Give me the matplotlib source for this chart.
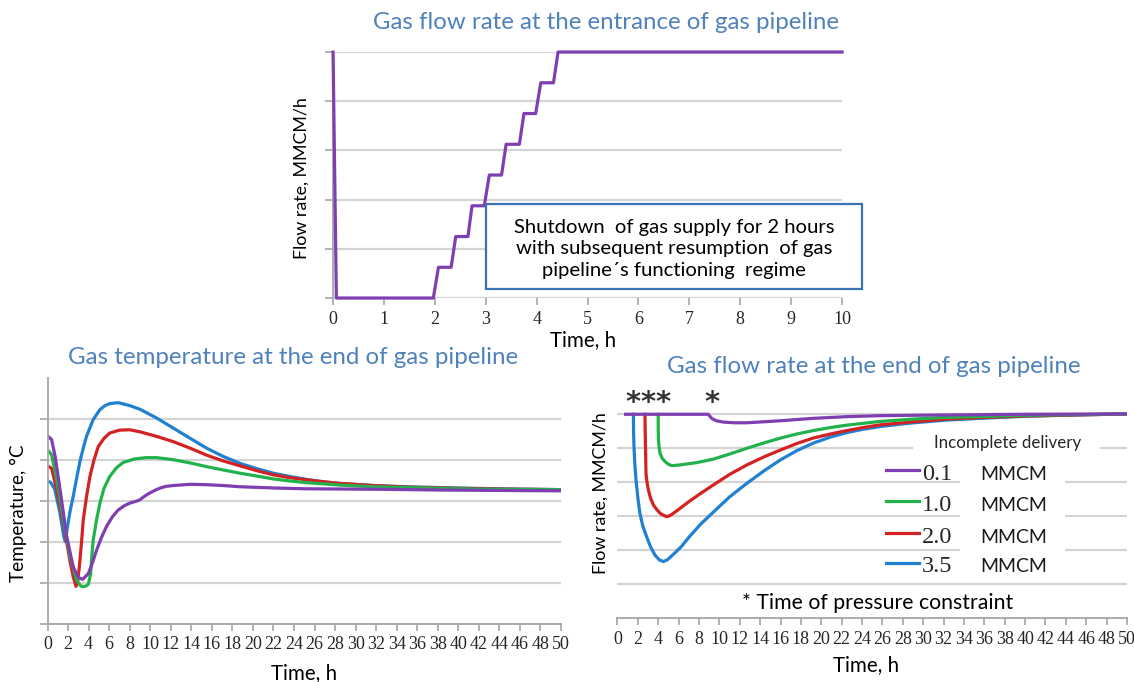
import matplotlib
matplotlib.use('Agg')
import matplotlib.pyplot as plt
from matplotlib.patches import Rectangle

# --- data ---

# gas flow rate at the entrance (steps), hours / relative units
inlet_t = [0, 0.065, 1.97, 2.07, 2.32, 2.41, 2.65, 2.73, 2.97, 3.07, 3.31, 3.40,
           3.66, 3.75, 3.98, 4.08, 4.33, 4.42, 10]
inlet_q = [5, 0, 0, 0.625, 0.625, 1.25, 1.25, 1.875, 1.875, 2.5, 2.5, 3.125,
           3.125, 3.75, 3.75, 4.375, 4.375, 5, 5]

# gas temperature at the end of pipeline
temp_t_01 = [0, 0.4, 0.74, 1.23, 1.87, 2.5, 3.0, 3.42, 3.97, 4.4, 4.77, 5.25, 5.74, 6.3,
             6.87, 7.5, 8.0, 8.8, 9.05, 9.29, 9.7, 10.2, 10.6, 11.1, 11.55, 12.25, 13.9,
             15.5, 17.1, 18.75, 22, 25.2, 31.7, 38.2, 44, 50]
temp_01 = [4.58, 4.49, 4.08, 3.26, 2.12, 1.39, 1.13, 1.08, 1.22, 1.5, 1.79, 2.1, 2.37, 2.6,
           2.77, 2.88, 2.94, 3.0, 3.03, 3.08, 3.15, 3.22, 3.27, 3.32, 3.35, 3.37, 3.4,
           3.39, 3.37, 3.34, 3.31, 3.29, 3.28, 3.26, 3.25, 3.24]

temp_t_10 = [0, 0.4, 0.9, 1.55, 2.2, 2.84, 3.2, 3.42, 3.75, 3.97, 4.1, 4.2, 4.3, 4.45, 4.75,
             5.1, 5.5, 6.06, 6.7, 7.35, 8.5, 9.6, 10.6, 12.25, 13.9, 15.5, 17.1, 18.75,
             20.4, 22, 23.6, 25.2, 26.9, 28.5, 31.7, 35, 38.2, 42, 50]
temp_10 = [4.24, 4.12, 3.51, 2.53, 1.63, 1.06, 0.93, 0.9, 0.92, 0.96, 1.1, 1.22, 1.6, 2.04, 2.5,
           2.94, 3.3, 3.59, 3.8, 3.93, 4.02, 4.05, 4.05, 4.0, 3.92, 3.83, 3.75, 3.67,
           3.6, 3.53, 3.48, 3.44, 3.41, 3.38, 3.34, 3.32, 3.3, 3.28, 3.27]

temp_t_20 = [0, 0.4, 0.9, 1.55, 2.2, 2.5, 2.77, 2.95, 3.1, 3.3, 3.48, 3.8, 4.13, 4.5, 4.94,
             5.5, 6.06, 7, 8.0, 9.0, 10.6, 12.25, 13.9, 15.5, 17.1, 18.75, 20.4, 22, 23.6,
             25.2, 26.9, 28.5, 31.7, 35, 38.2, 42, 46, 50]
temp_20 = [3.85, 3.79, 3.26, 2.45, 1.51, 1.15, 0.91, 1.05, 1.39, 1.95, 2.53, 3.1, 3.59, 3.97,
           4.32, 4.52, 4.65, 4.72, 4.73, 4.68, 4.57, 4.44, 4.28, 4.11, 3.97, 3.85, 3.73,
           3.63, 3.56, 3.51, 3.46, 3.42, 3.37, 3.33, 3.31, 3.29, 3.28, 3.27]

temp_t_35 = [0, 0.3, 0.7, 1.2, 1.6, 1.75, 1.9, 2.2, 2.5, 2.8, 3.16, 3.5, 3.8, 4.45, 5.1, 5.6,
             6.1, 6.9, 8.0, 9.0, 10.6, 12.25, 13.9, 15.5, 17.1, 18.75, 20.4, 22, 23.6, 25.2,
             26.9, 28.5, 31.7, 35, 38.2, 42, 46, 50]
temp_35 = [3.47, 3.45, 3.28, 2.72, 2.1, 2.0, 2.3, 2.75, 3.1, 3.5, 3.96, 4.3, 4.57, 4.98, 5.22,
           5.32, 5.37, 5.39, 5.32, 5.23, 5.02, 4.77, 4.52, 4.28, 4.08, 3.91, 3.78, 3.67,
           3.59, 3.52, 3.46, 3.42, 3.37, 3.34, 3.32, 3.3, 3.28, 3.27]

# gas flow rate at the end of pipeline
flow_t_01 = [0.8, 8.9, 9.24, 9.7, 10.4, 11.5, 12.7, 14.4, 16, 19.2, 22.5, 25.8, 32.3, 40, 50]
flow_01 = [6.0, 6.0, 5.88, 5.81, 5.77, 5.75, 5.75, 5.78, 5.81, 5.88, 5.93, 5.96, 5.98,
           6.0, 6.01]

flow_t_10 = [4.0, 4.0, 4.02, 4.1, 4.18, 4.4, 4.67, 5.0, 5.33, 6.13, 7.8, 9.4, 11, 12.7, 14.4,
             16, 17.6, 19.2, 20.9, 22.5, 25.8, 29.1, 32.3, 35.6, 40, 45, 50]
flow_10 = [6.0, 5.6, 5.25, 5.0, 4.85, 4.7, 4.61, 4.53, 4.49, 4.51, 4.58, 4.68, 4.83, 5.0, 5.16,
           5.3, 5.42, 5.52, 5.61, 5.68, 5.79, 5.86, 5.91, 5.93, 5.97, 5.99, 6.01]

flow_t_20 = [2.7, 2.72, 2.75, 2.8, 2.9, 3.04, 3.25, 3.53, 3.85, 4.18, 4.5, 4.84, 5.15, 5.5,
             6.13, 7, 8.2, 9.4, 11, 12.7, 14.4, 16, 17.6, 19.2, 20.9, 22.5, 24.1, 25.8,
             29.1, 32.3, 35.6, 40, 45, 50]
flow_20 = [6.0, 5.5, 5.05, 4.26, 4.0, 3.77, 3.53, 3.33, 3.2, 3.09, 3.03, 2.99, 3.02, 3.09,
           3.23, 3.43, 3.68, 3.92, 4.23, 4.51, 4.75, 4.95, 5.14, 5.3, 5.42, 5.52, 5.61, 5.69,
           5.78, 5.86, 5.9, 5.95, 5.98, 6.01]

flow_t_35 = [1.56, 1.58, 1.62, 1.7, 1.82, 2.0, 2.2, 2.5, 2.86, 3.25, 3.68, 4.1, 4.5, 4.9, 5.3,
             5.8, 6.3, 7, 8.2, 9.4, 11, 12.7, 14.4, 16, 17.6, 19.2, 20.9, 22.5, 24.1, 25.8,
             27.5, 29.1, 32.3, 35.6, 40, 45, 50]
flow_35 = [6.0, 5.5, 5.05, 4.55, 4.07, 3.55, 3.09, 2.7, 2.4, 2.1, 1.86, 1.72, 1.67, 1.72, 1.83,
           1.97, 2.12, 2.38, 2.78, 3.12, 3.57, 3.97, 4.34, 4.66, 4.93, 5.15, 5.33, 5.46,
           5.56, 5.64, 5.7, 5.75, 5.83, 5.88, 5.94, 5.98, 6.01]

delivery_labels = ['0.1', '1.0', '2.0', '3.5']
pressure_constraint_t = [1.5, 3.0, 4.5, 9.25]

# --- styles ---
PURPLE = '#7F3FB2'
GREEN = '#22B24C'
RED = '#D42222'
BLUE = '#2080D2'
TITLE_C = '#4F81BD'
GRID_C = '#D4D4D4'
AX_C = '#A6A6A6'
SANS = 'Lato'
SERIF = 'Liberation Serif'
LW = 2.3

fig = plt.figure(figsize=(11.34, 6.82), dpi=100)


def style_axes(ax, xticks, ylim, yticks, left_ticks=True, left_spine=True):
    ax.set_xticks(xticks)
    ax.set_yticks(yticks)
    ax.set_ylim(*ylim)
    ax.set_yticklabels([])
    ax.grid(axis='y', color=GRID_C, lw=1.6)
    ax.set_axisbelow(True)
    for s in ['top', 'right']:
        ax.spines[s].set_visible(False)
    ax.spines['bottom'].set_color(AX_C)
    ax.spines['bottom'].set_linewidth(1.3)
    ax.spines['left'].set_color(AX_C)
    ax.spines['left'].set_linewidth(1.3)
    ax.spines['left'].set_visible(left_spine)
    ax.tick_params(axis='x', length=5, width=1.2, color=AX_C, pad=4, labelsize=13,
                   labelcolor='#262626', labelfontfamily=SERIF)
    ax.tick_params(axis='y', length=6 if left_ticks else 0, width=1.2, color=AX_C)


# top panel: entrance flow rate
ax1 = fig.add_axes([0.2937, 0.5630, 0.4489, 0.3607])
ax1.plot(inlet_t, inlet_q, color=PURPLE, lw=LW, clip_on=False, zorder=3)
ax1.set_xlim(0, 10)
style_axes(ax1, range(0, 11), (0, 5), range(0, 6))
ax1.spines['bottom'].set_visible(False)
ax1.axhline(0, color=AX_C, lw=1.3, zorder=0.5)

fig.text(0.5344, 0.9677, 'Gas flow rate at the entrance of gas pipeline', color=TITLE_C,
         family=SANS, fontsize=17.3, ha='center', va='center')
fig.text(0.2663, 0.739, 'Flow rate, MMCM/h', family=SANS, fontsize=12.8, rotation=90,
         ha='center', va='center')
fig.text(0.5141, 0.5015, 'Time, h', family=SANS, fontsize=14.8, ha='center', va='center')

box = Rectangle((0.4286, 0.5758), 0.3316, 0.1246, transform=fig.transFigure,
                facecolor='white', edgecolor='#3A70B5', lw=1.6, zorder=5)
fig.patches.append(box)
fig.text(0.5944, 0.6349, 'Shutdown  of gas supply for 2 hours\n'
         'with subsequent resumption  of gas\npipeline\u00b4s functioning  regime',
         family=SANS, fontsize=14.6, ha='center', va='center', linespacing=1.3, zorder=6)

# bottom left: temperature
ax2 = fig.add_axes([0.0419, 0.0855, 0.4528, 0.3607])
ax2.plot(temp_t_35, temp_35, color=BLUE, lw=LW)
ax2.plot(temp_t_20, temp_20, color=RED, lw=LW)
ax2.plot(temp_t_10, temp_10, color=GREEN, lw=LW)
ax2.plot(temp_t_01, temp_01, color=PURPLE, lw=LW)
ax2.set_xlim(0, 50)
style_axes(ax2, range(0, 51, 2), (0, 6), range(0, 6))

fig.text(0.2584, 0.4765, 'Gas temperature at the end of gas pipeline', color=TITLE_C,
         family=SANS, fontsize=17.4, ha='center', va='center')
fig.text(0.0165, 0.2478, 'Temperature, \u00b0C', family=SANS, fontsize=13.6, rotation=90,
         ha='center', va='center')
fig.text(0.2681, 0.0132, 'Time, h', family=SANS, fontsize=14.8, ha='center', va='center')

# bottom right: flow at the end
ax3 = fig.add_axes([0.5445, 0.0934, 0.4493, 0.3191])
ax3.plot(flow_t_35, flow_35, color=BLUE, lw=LW)
ax3.plot(flow_t_20, flow_20, color=RED, lw=LW)
ax3.plot(flow_t_10, flow_10, color=GREEN, lw=LW)
ax3.plot(flow_t_01, flow_01, color=PURPLE, lw=LW)
ax3.set_xlim(0, 50)
style_axes(ax3, range(0, 51, 2), (0, 6.4), range(1, 7), left_ticks=False, left_spine=False)

for t in pressure_constraint_t:
    ax3.text(t, 6.33, '*', ha='center', va='center', fontsize=21, family='DejaVu Sans',
             weight='bold', color='#333333')

# legend drawn by hand to mimic the mixed fonts
ax3.add_patch(Rectangle((0.58, 0.746), 0.367, 0.092, transform=ax3.transAxes,
                        facecolor='white', edgecolor='none', zorder=1))
ax3.add_patch(Rectangle((0.672, 0.199), 0.206, 0.52, transform=ax3.transAxes,
                        facecolor='white', edgecolor='none', zorder=1))
ax3.text(0.766, 0.804, 'Incomplete delivery', transform=ax3.transAxes, family=SANS,
         fontsize=12.2, ha='center', va='center', color='#262626', zorder=2)
leg_y = [0.681, 0.540, 0.393, 0.256]
for lab, c, y in zip(delivery_labels, [PURPLE, GREEN, RED, BLUE], leg_y):
    ax3.plot([0.528, 0.592], [y, y], transform=ax3.transAxes, color=c, lw=LW, zorder=2)
    ax3.text(0.597, y - 0.02, lab, transform=ax3.transAxes, family=SERIF, fontsize=17.5,
             ha='left', va='center', color='#262626', zorder=2)
    ax3.text(0.713, y - 0.02, 'MMCM', transform=ax3.transAxes, family=SANS, fontsize=14,
             ha='left', va='center', color='#1a1a1a', zorder=2)

fig.text(0.7707, 0.4633, 'Gas flow rate at the end of gas pipeline', color=TITLE_C,
         family=SANS, fontsize=17.4, ha='center', va='center')
fig.text(0.53, 0.2771, 'Flow rate, MMCM/h', family=SANS, fontsize=12.8, rotation=90,
         ha='center', va='center')
fig.text(0.7637, 0.0249, 'Time, h', family=SANS, fontsize=14.8, ha='center', va='center')
fig.text(0.7743, 0.1158, '* Time of pressure constraint', family=SANS, fontsize=15.3,
         ha='center', va='center')

fig.savefig('out.png', dpi=100)
